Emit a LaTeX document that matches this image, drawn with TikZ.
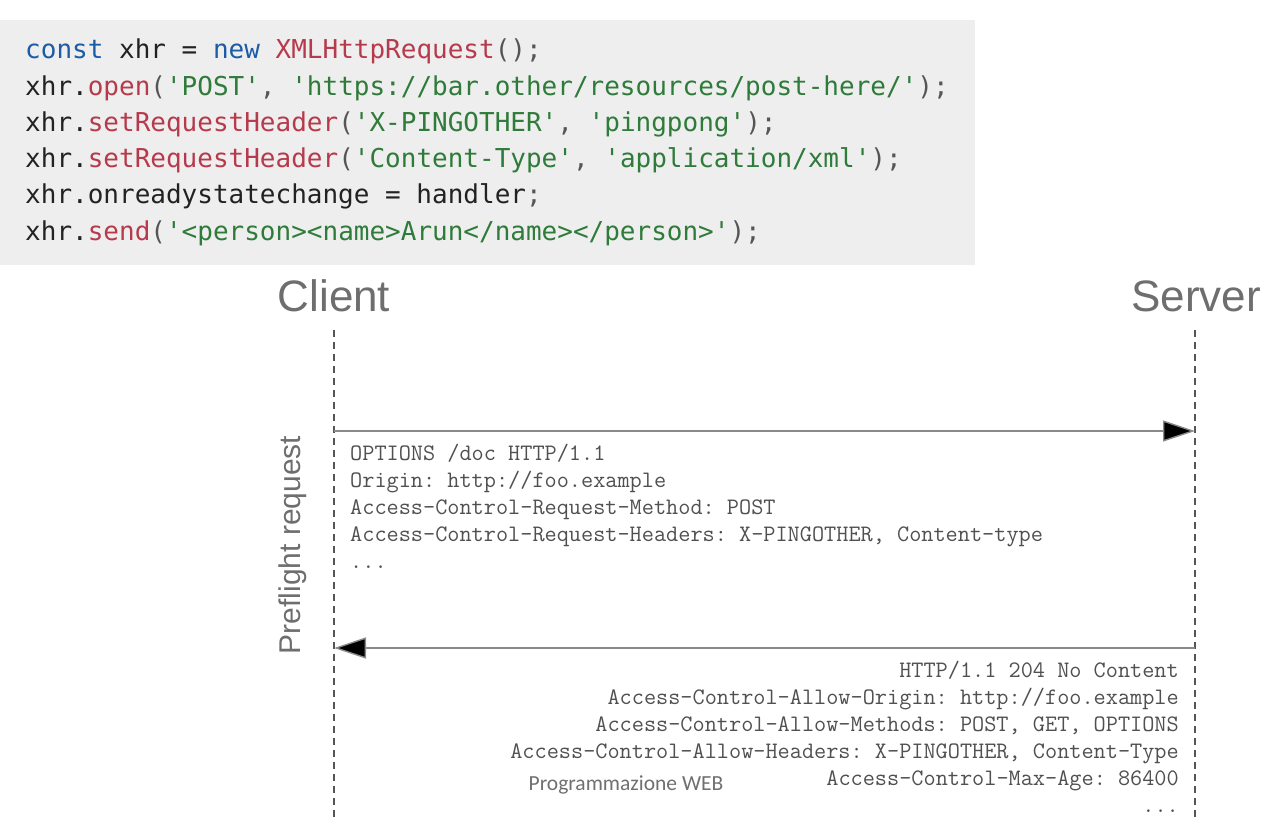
\documentclass[tikz,border=0pt]{standalone}
\usepackage{fontspec}
\usetikzlibrary{arrows.meta}
\setmainfont{Liberation Sans}
\newfontfamily\codefont{DejaVu Sans Mono}[Ligatures=TeXOff]
\newfontfamily\hdrfont{Liberation Sans}
\newfontfamily\notefont{Carlito}
\definecolor{codebg}{HTML}{EEEEEE}
\definecolor{kw}{HTML}{1B5CA6}
\definecolor{fn}{HTML}{B73A4C}
\definecolor{str}{HTML}{2E7B3A}
\definecolor{txt}{HTML}{222222}
\definecolor{pun}{HTML}{555555}
\definecolor{hdr}{HTML}{6E6E6E}
\definecolor{msg}{HTML}{505050}
\definecolor{life}{HTML}{555555}
\definecolor{arrline}{HTML}{8A8A8A}
\definecolor{note}{HTML}{707070}
\tikzset{
  codeline/.style={anchor=base west, inner sep=0pt, font=\codefont\fontsize{26}{30}\selectfont, text=txt},
  msgline/.style={inner sep=0pt, font=\ttfamily\frenchspacing\fontsize{23.6}{26}\selectfont, text=msg},
  header/.style={inner sep=0pt, font=\hdrfont\fontsize{44}{50}\selectfont, text=hdr},
  lifeline/.style={draw=life, line width=1.1pt, dash pattern=on 7pt off 5pt},
  message/.style={draw=arrline, line width=1.4pt, -{Triangle[length=32pt,width=21pt,fill=black]}},
}
\newcommand{\K}[1]{\textcolor{kw}{#1}}
\newcommand{\F}[1]{\textcolor{fn}{#1}}
\newcommand{\Sg}[1]{\textcolor{str}{#1}}
\newcommand{\Pn}[1]{\textcolor{pun}{#1}}
\begin{document}
\begin{tikzpicture}[x=1pt,y=-1pt]
\useasboundingbox (0,0) rectangle (1262,817);
\fill[white] (0,0) rectangle (1262,817);
% code box
\fill[codebg] (0,20) rectangle (975,265);
\node[codeline] (c1) at (25,58) {\K{const} xhr = \K{new} \F{XMLHttpRequest}\Pn{();}};
\node[codeline] (c2) at (25,95) {xhr.\F{open}\Pn{(}\Sg{'POST'}\Pn{,} \Sg{'https://bar.other/resources/post-here/'}\Pn{);}};
\node[codeline] (c3) at (25,131) {xhr.\F{setRequestHeader}\Pn{(}\Sg{'X-PINGOTHER'}\Pn{,} \Sg{'pingpong'}\Pn{);}};
\node[codeline] (c4) at (25,167) {xhr.\F{setRequestHeader}\Pn{(}\Sg{'Content-Type'}\Pn{,} \Sg{'application/xml'}\Pn{);}};
\node[codeline] (c5) at (25,203) {xhr.onreadystatechange = handler\Pn{;}};
\node[codeline] (c6) at (25,240) {xhr.\F{send}\Pn{(}\Sg{'<person><name>Arun</name></person>'}\Pn{);}};
% headers
\node[header] (client) at (334,296) {Client};
\node[header, anchor=east] (server) at (1261,296) {Server};
% lifelines
\coordinate (ctop) at (334,330);
\coordinate (cbot) at (334,817);
\coordinate (stop) at (1195,330);
\coordinate (sbot) at (1195,817);
\draw[lifeline] (ctop) -- (cbot);
\draw[lifeline] (stop) -- (sbot);
% messages
\coordinate (r1a) at (334,431);
\coordinate (r1b) at (1195,431);
\coordinate (r2a) at (1195,648);
\coordinate (r2b) at (334,648);
\draw[message] (r1a) -- (r1b);
\draw[message] (r2a) -- (r2b);
% preflight label
\node[inner sep=0pt, rotate=90, font=\hdrfont\fontsize{30}{34}\selectfont, text=hdr] (pre) at (293,545) {Preflight request};
% request text
\node[msgline, anchor=base west] (q1) at (350,460) {OPTIONS /doc HTTP/1.1};
\node[msgline, anchor=base west] (q2) at (350,487) {Origin: http://foo.example};
\node[msgline, anchor=base west] (q3) at (350,514) {Access-Control-Request-Method: POST};
\node[msgline, anchor=base west] (q4) at (350,541) {Access-Control-Request-Headers: X-PINGOTHER, Content-type};
\node[msgline, anchor=base west] (q5) at (350,568) {...};
% response text
\node[msgline, anchor=base east] (p1) at (1179,677) {HTTP/1.1 204 No Content};
\node[msgline, anchor=base east] (p2) at (1179,704) {Access-Control-Allow-Origin: http://foo.example};
\node[msgline, anchor=base east] (p3) at (1179,731) {Access-Control-Allow-Methods: POST, GET, OPTIONS};
\node[msgline, anchor=base east] (p4) at (1179,758) {Access-Control-Allow-Headers: X-PINGOTHER, Content-Type};
\node[msgline, anchor=base east] (p5) at (1179,785) {Access-Control-Max-Age: 86400};
\node[msgline, anchor=base east] (p6) at (1179,812) {...};
% footer note
\node[inner sep=0pt, font=\notefont\fontsize{21.5}{24}\selectfont, text=note] (foot) at (626,785) {Programmazione WEB};
\end{tikzpicture}
\end{document}
